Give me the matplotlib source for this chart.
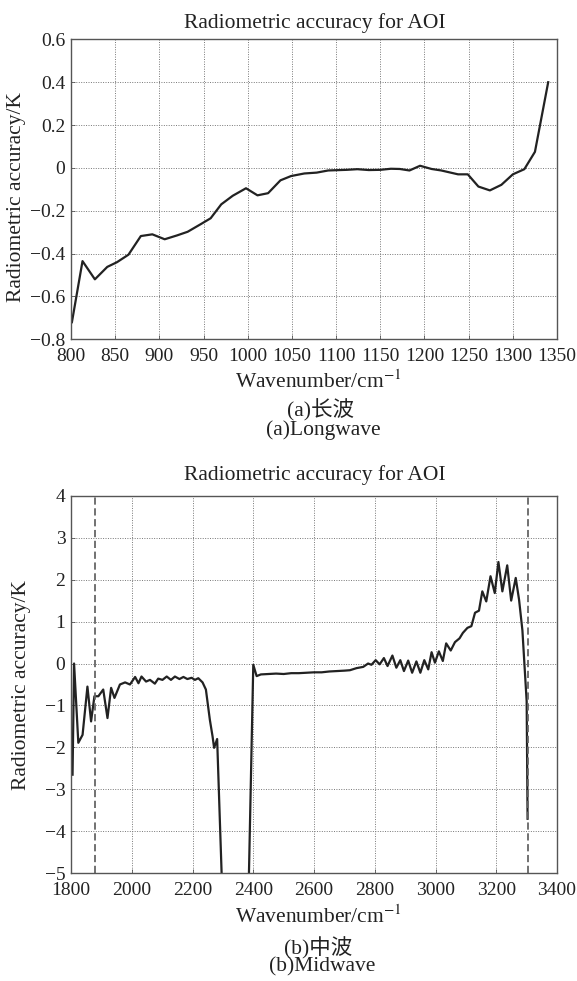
import numpy as np
import matplotlib
matplotlib.use("Agg")
import matplotlib.pyplot as plt

plt.rcParams['font.family'] = ['Liberation Serif', 'Noto Sans CJK SC', 'DejaVu Sans']
plt.rcParams['mathtext.fontset'] = 'stix'
plt.rcParams['axes.unicode_minus'] = True

# (a) 长波 longwave
lw_wn = [801, 813, 827, 841, 852, 865, 879, 892, 906, 920, 932, 947, 958, 970,
         983, 998, 1011, 1023, 1037, 1049, 1064, 1078, 1091, 1112, 1124, 1137,
         1150, 1162, 1172, 1183, 1195, 1208, 1219, 1238, 1249, 1261, 1274, 1287,
         1300, 1313, 1325, 1340]
lw_acc = [-0.72, -0.435, -0.52, -0.462, -0.44, -0.405, -0.318, -0.31, -0.333,
          -0.315, -0.298, -0.262, -0.235, -0.17, -0.13, -0.095, -0.128, -0.118,
          -0.058, -0.038, -0.026, -0.022, -0.012, -0.009, -0.006, -0.01, -0.009,
          -0.004, -0.005, -0.012, 0.01, -0.005, -0.012, -0.03, -0.03, -0.087,
          -0.105, -0.079, -0.03, -0.006, 0.075, 0.40]

# (b) 中波 midwave
mw_wn = [1805, 1810, 1824, 1838, 1854, 1866, 1877, 1890, 1906, 1920, 1932, 1943,
         1961, 1978, 1994, 2011, 2022, 2032, 2047, 2060, 2076, 2087, 2101, 2115,
         2129, 2142, 2157, 2170, 2183, 2197, 2208, 2219, 2233, 2244, 2257, 2266,
         2271, 2281, 2305, 2380, 2400, 2411, 2425, 2450, 2475, 2500, 2525, 2550,
         2575, 2600, 2625, 2650, 2675, 2700, 2718, 2740, 2762, 2778, 2789, 2803,
         2816, 2830, 2842, 2858, 2871, 2884, 2896, 2910, 2923, 2937, 2950, 2963,
         2976, 2987, 2998, 3011, 3024, 3035, 3050, 3064, 3079, 3090, 3105, 3118,
         3130, 3143, 3154, 3167, 3181, 3195, 3207, 3220, 3236, 3249, 3264, 3275,
         3286, 3294, 3300, 3303]
mw_acc = [-2.65, 0.0, -1.89, -1.70, -0.55, -1.38, -0.78, -0.78, -0.62, -1.30,
          -0.58, -0.82, -0.50, -0.45, -0.50, -0.32, -0.47, -0.31, -0.43, -0.39,
          -0.48, -0.36, -0.39, -0.31, -0.39, -0.31, -0.37, -0.32, -0.37, -0.34,
          -0.39, -0.35, -0.45, -0.62, -1.34, -1.74, -2.01, -1.80, -7.0, -7.0,
          -0.03, -0.30, -0.26, -0.25, -0.24, -0.25, -0.23, -0.23, -0.22, -0.21,
          -0.21, -0.19, -0.18, -0.17, -0.16, -0.11, -0.08, 0.0, -0.03, 0.08,
          -0.02, 0.13, -0.06, 0.19, -0.10, 0.08, -0.18, 0.07, -0.22, 0.05,
          -0.22, 0.08, -0.14, 0.27, 0.02, 0.29, 0.06, 0.48, 0.31, 0.51, 0.60,
          0.73, 0.85, 0.89, 1.21, 1.26, 1.72, 1.48, 2.08, 1.68, 2.42, 1.72,
          2.34, 1.50, 2.04, 1.52, 0.79, -0.18, -0.90, -3.70]
mw_bounds = [1880, 3305]

lw_xticks = np.arange(800, 1351, 50)
lw_yticks = [0.6, 0.4, 0.2, 0, -0.2, -0.4, -0.6, -0.8]
lw_ylabels = ['0.6', '0.4', '0.2', '0', '\u22120.2', '\u22120.4', '\u22120.6', '\u22120.8']
mw_xticks = np.arange(1800, 3401, 200)
mw_yticks = np.arange(-5, 5, 1)

title = 'Radiometric accuracy for AOI'
xlab = 'Wavenumber/cm$^{-1}$'
ylab = 'Radiometric accuracy/K'

fig = plt.figure(figsize=(5.77, 9.81), dpi=100)
ax1 = fig.add_axes([0.1231, 0.6541, 0.8423, 0.3058])
ax2 = fig.add_axes([0.1231, 0.1098, 0.8423, 0.3849])

tick_fs = 14
lab_fs = 15.5
txt = '#222222'


def style(ax):
    ax.grid(True, linestyle=(0, (1, 1.5)), color='#777777', linewidth=0.7)
    ax.set_axisbelow(True)
    for s in ax.spines.values():
        s.set_color('#555555')
        s.set_linewidth(1.0)
    ax.tick_params(direction='in', length=3, width=0.6, colors='#555555',
                   labelcolor=txt, labelsize=tick_fs)
    ax.tick_params(axis='x', pad=6)
    ax.tick_params(axis='y', pad=4)


# 长波
ax1.plot(lw_wn, lw_acc, color='#222222', linewidth=1.6)
ax1.set_xlim(800, 1350)
ax1.set_ylim(-0.8, 0.6)
ax1.set_xticks(lw_xticks)
ax1.set_yticks(lw_yticks)
ax1.set_yticklabels(lw_ylabels)
style(ax1)

# 中波
ax2.plot(mw_wn, mw_acc, color='#222222', linewidth=1.6)
for b in mw_bounds:
    ax2.axvline(b, color='#666666', linestyle=(0, (4, 2)), linewidth=1.3)
ax2.set_xlim(1800, 3400)
ax2.set_ylim(-5, 4)
ax2.set_xticks(mw_xticks)
ax2.set_yticks(mw_yticks)
style(ax2)

cx = 0.546
fig.text(cx, 0.9762, title, ha='center', va='center', fontsize=lab_fs, color=txt)
fig.text(cx, 0.5158, title, ha='center', va='center', fontsize=lab_fs, color=txt)
fig.text(0.551, 0.6109, xlab, ha='center', va='center', fontsize=lab_fs, color=txt)
fig.text(0.551, 0.0655, xlab, ha='center', va='center', fontsize=lab_fs, color=txt)
fig.text(0.029, 0.7995, ylab, ha='center', va='center', rotation=90, fontsize=lab_fs, color=txt)
fig.text(0.037, 0.3017, ylab, ha='center', va='center', rotation=90, fontsize=lab_fs, color=txt)

fig.text(0.556, 0.582, '(a)长波', ha='center', va='center', fontsize=lab_fs, color=txt)
fig.text(0.561, 0.5617, '(a)Longwave', ha='center', va='center', fontsize=lab_fs, color=txt)
fig.text(0.552, 0.0336, '(b)中波', ha='center', va='center', fontsize=lab_fs, color=txt)
fig.text(0.558, 0.0143, '(b)Midwave', ha='center', va='center', fontsize=lab_fs, color=txt)

fig.savefig('out.png', dpi=100)
